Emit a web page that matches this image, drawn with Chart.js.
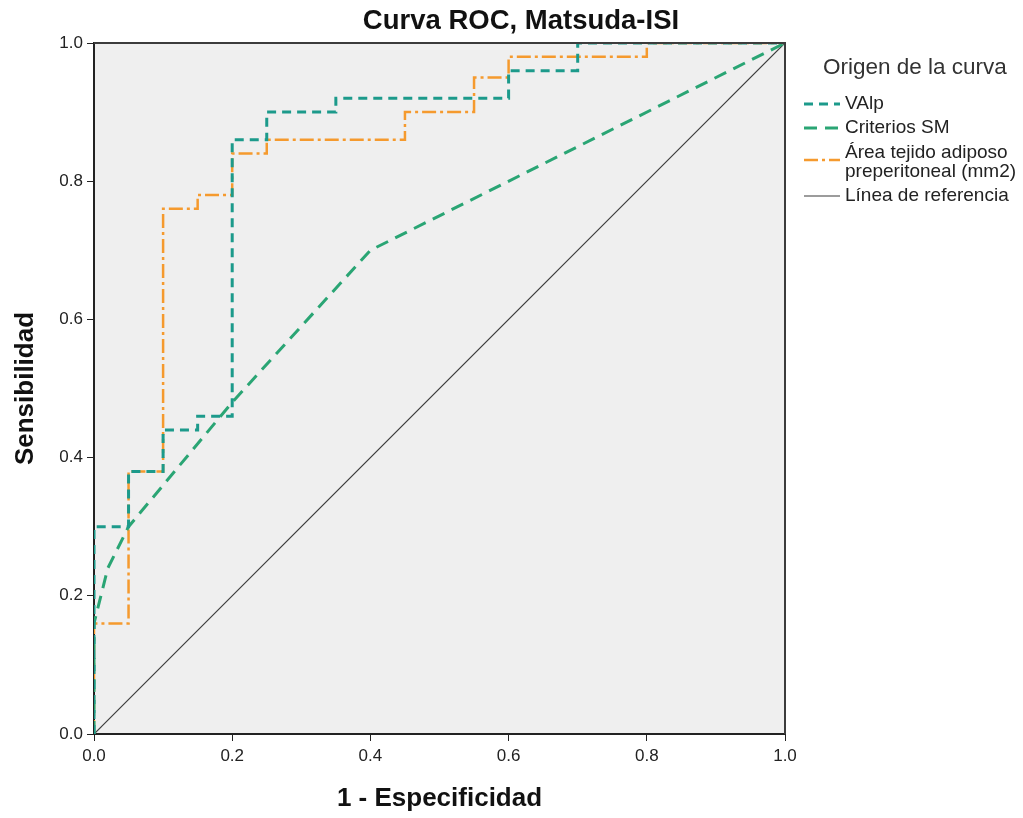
<!DOCTYPE html>
<html>
<head>
<meta charset="utf-8">
<script src="https://cdn.jsdelivr.net/npm/chart.js@4/dist/chart.umd.min.js"></script>
<style>
  html, body { margin: 0; padding: 0; background: #ffffff; }
  #wrap { width: 1023px; height: 818px; position: relative; }
</style>
</head>
<body>
<div id="wrap"><canvas id="roc" width="1023" height="818"></canvas></div>
<script>
// ROC curves (x = 1 - especificidad, y = sensibilidad)
const seriesLabels = ['VAlp', 'Criterios SM', ['Área tejido adiposo', 'preperitoneal (mm2)'], 'Línea de referencia'];

const valpX = [0, 0, 0.05, 0.05, 0.10, 0.10, 0.15, 0.15, 0.20, 0.20, 0.25, 0.25, 0.35, 0.35, 0.60, 0.60, 0.70, 0.70, 1.0];
const valpY = [0, 0.30, 0.30, 0.38, 0.38, 0.44, 0.44, 0.46, 0.46, 0.86, 0.86, 0.90, 0.90, 0.92, 0.92, 0.96, 0.96, 1.0, 1.0];

const smX = [0, 0, 0.02, 0.05, 0.20, 0.40, 1.0];
const smY = [0, 0.16, 0.24, 0.30, 0.48, 0.70, 1.0];

const areaX = [0, 0, 0.05, 0.05, 0.10, 0.10, 0.15, 0.15, 0.20, 0.20, 0.25, 0.25, 0.45, 0.45, 0.55, 0.55, 0.60, 0.60, 0.80, 0.80, 1.0];
const areaY = [0, 0.16, 0.16, 0.38, 0.38, 0.76, 0.76, 0.78, 0.78, 0.84, 0.84, 0.86, 0.86, 0.90, 0.90, 0.95, 0.95, 0.98, 0.98, 1.0, 1.0];

const refX = [0, 1];
const refY = [0, 1];

const axisTicks = [0, 0.2, 0.4, 0.6, 0.8, 1.0];

const COLORS = {
  valp: '#1c9a8b',
  sm: '#2aa574',
  area: '#f59a2e',
  ref: '#3a3a3a',
  plotBg: '#efefef',
  text: '#222222',
};

const FONT = "'Liberation Sans', Arial, sans-serif";

const pts = (xs, ys) => xs.map((x, i) => ({ x, y: ys[i] }));

// plot background, frame, title and legend
const rocDecor = {
  id: 'rocDecor',
  beforeDraw(chart) {
    const { ctx, chartArea: a } = chart;
    ctx.save();
    ctx.fillStyle = COLORS.plotBg;
    ctx.fillRect(a.left, a.top, a.right - a.left, a.bottom - a.top);
    ctx.restore();
  },
  afterDatasetsDraw(chart) {
    const { ctx, chartArea: a } = chart;
    ctx.save();
    ctx.strokeStyle = '#3c3c3c';
    ctx.lineWidth = 2;
    ctx.beginPath();
    ctx.moveTo(a.left, a.top);
    ctx.lineTo(a.right, a.top);
    ctx.lineTo(a.right, a.bottom);
    ctx.stroke();
    ctx.restore();
  },
  afterDraw(chart) {
    const ctx = chart.ctx;
    ctx.save();
    ctx.fillStyle = '#111';
    ctx.font = `bold 27.5px ${FONT}`;
    ctx.textAlign = 'center';
    ctx.textBaseline = 'middle';
    ctx.fillText('Curva ROC, Matsuda-ISI', 521, 21);

    // legend
    ctx.textAlign = 'left';
    ctx.fillStyle = '#333';
    ctx.font = `22.5px ${FONT}`;
    ctx.fillText('Origen de la curva', 823, 68);

    ctx.font = `19px ${FONT}`;
    ctx.fillStyle = '#222';
    const rows = [104, 128, 153, 196];
    chart.data.datasets.forEach((ds, i) => {
      const lines = Array.isArray(ds.label) ? ds.label : [ds.label];
      const y0 = rows[i];
      const sampleY = lines.length > 1 ? y0 + 7 : y0;
      ctx.save();
      ctx.strokeStyle = ds.borderColor;
      ctx.lineWidth = ds.borderWidth;
      ctx.setLineDash(ds.borderDash || []);
      ctx.beginPath();
      ctx.moveTo(804, sampleY);
      ctx.lineTo(840, sampleY);
      ctx.stroke();
      ctx.restore();
      lines.forEach((t, k) => ctx.fillText(t, 845, y0 + k * 19));
    });
    ctx.restore();
  },
};

new Chart(document.getElementById('roc'), {
  type: 'scatter',
  data: {
    datasets: [
      { label: seriesLabels[0], data: pts(valpX, valpY), borderColor: COLORS.valp, borderWidth: 3, borderDash: [9, 6] },
      { label: seriesLabels[1], data: pts(smX, smY), borderColor: COLORS.sm, borderWidth: 3, borderDash: [13, 8] },
      { label: seriesLabels[2], data: pts(areaX, areaY), borderColor: COLORS.area, borderWidth: 2.5, borderDash: [14, 4, 3, 4] },
      { label: seriesLabels[3], data: pts(refX, refY), borderColor: COLORS.ref, borderWidth: 1.2 },
    ].map(d => ({ ...d, showLine: true, pointRadius: 0, tension: 0, fill: false })),
  },
  options: {
    responsive: false,
    animation: false,
    layout: { padding: { top: 43, right: 238, left: 0, bottom: 0 } },
    plugins: {
      legend: { display: false },
      tooltip: { enabled: false },
    },
    scales: {
      x: {
        type: 'linear', min: 0, max: 1,
        afterBuildTicks: s => { s.ticks = axisTicks.map(v => ({ value: v })); },
        afterFit: s => { s.height = 84; },
        grid: { drawOnChartArea: false, drawTicks: true, tickLength: 7, color: '#222' },
        border: { color: '#222', width: 2 },
        ticks: { color: COLORS.text, font: { family: FONT, size: 17 }, padding: 5, maxRotation: 0, callback: v => v.toFixed(1) },
        title: { display: true, text: '1 - Especificidad', color: '#111', font: { family: FONT, size: 26, weight: 'bold' }, padding: { top: 0, bottom: 4 } },
      },
      y: {
        type: 'linear', min: 0, max: 1,
        afterBuildTicks: s => { s.ticks = axisTicks.map(v => ({ value: v })); },
        afterFit: s => { s.width = 94; },
        grid: { drawOnChartArea: false, drawTicks: true, tickLength: 7, color: '#222' },
        border: { color: '#222', width: 2 },
        ticks: { color: COLORS.text, font: { family: FONT, size: 17 }, padding: 4, callback: v => v.toFixed(1) },
        title: { display: true, text: 'Sensibilidad', color: '#111', font: { family: FONT, size: 26, weight: 'bold' }, padding: { top: 10, bottom: 0 } },
      },
    },
  },
  plugins: [rocDecor],
});
</script>
</body>
</html>
